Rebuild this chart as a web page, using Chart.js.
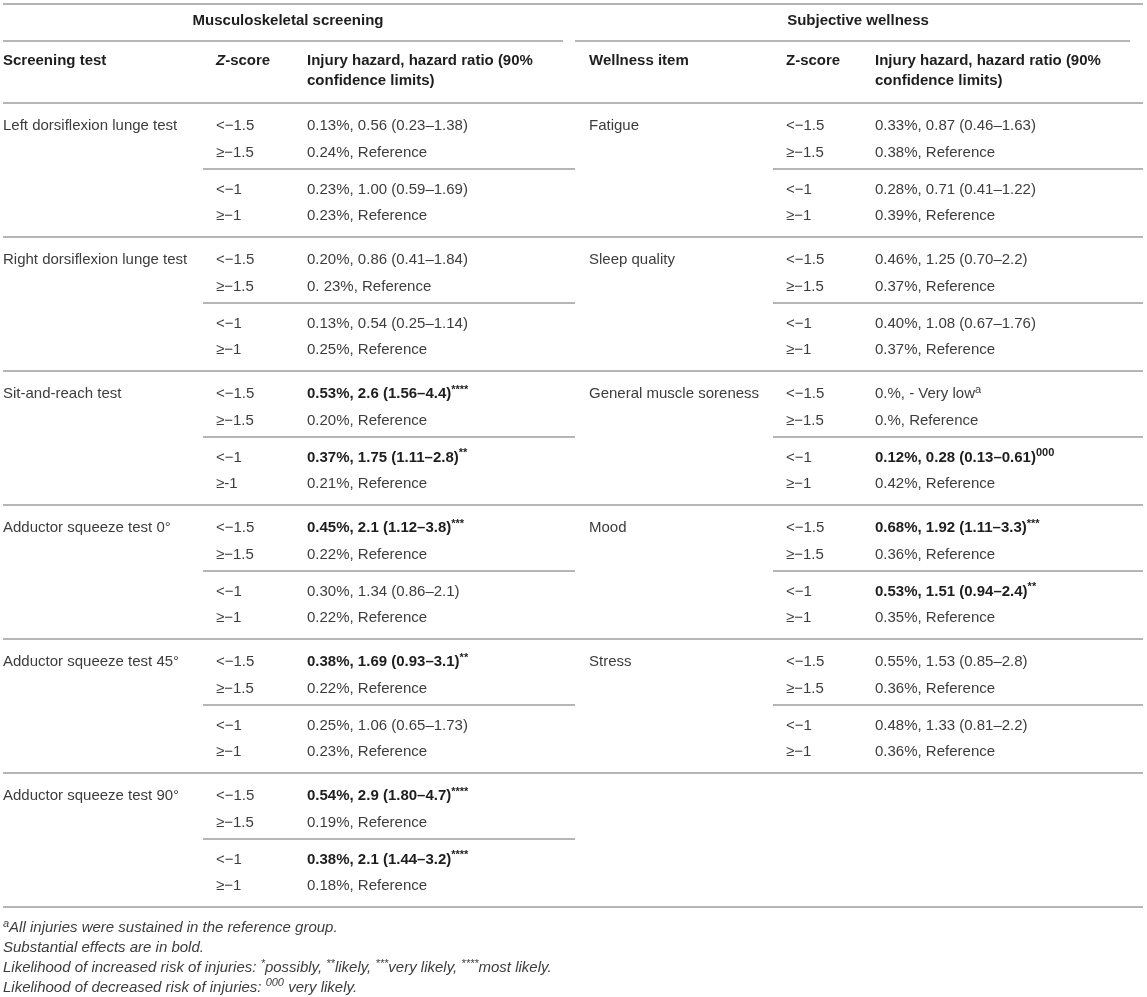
<!DOCTYPE html>
<html>
<head>
<meta charset="utf-8">
<title>Injury hazard by screening test and wellness item</title>
<script src="https://cdn.jsdelivr.net/npm/chart.js@4.4.1/dist/chart.umd.min.js"></script>
<style>
  html, body { margin: 0; padding: 0; background: #fff; }
  canvas { display: block; }
</style>
</head>
<body>
<canvas id="hazardTable" width="1147" height="997"></canvas>
<script>
// --- table contents ---
const groupTitles = ['Musculoskeletal screening', 'Subjective wellness'];
const leftHeaders = ['Screening test', '<i>Z</i>-score', ['Injury hazard, hazard ratio (90%', 'confidence limits)']];
const rightHeaders = ['Wellness item', 'Z-score', ['Injury hazard, hazard ratio (90%', 'confidence limits)']];

const screeningTests = [
    'Left dorsiflexion lunge test',
    'Right dorsiflexion lunge test',
    'Sit-and-reach test',
    'Adductor squeeze test 0°',
    'Adductor squeeze test 45°',
    'Adductor squeeze test 90°'
];
const screeningZ = [
    ['<−1.5', '≥−1.5', '<−1', '≥−1'],
    ['<−1.5', '≥−1.5', '<−1', '≥−1'],
    ['<−1.5', '≥−1.5', '<−1', '≥-1'],
    ['<−1.5', '≥−1.5', '<−1', '≥−1'],
    ['<−1.5', '≥−1.5', '<−1', '≥−1'],
    ['<−1.5', '≥−1.5', '<−1', '≥−1']
];
const screeningHazard = [
    ['0.13%, 0.56 (0.23–1.38)', '0.24%, Reference', '0.23%, 1.00 (0.59–1.69)', '0.23%, Reference'],
    ['0.20%, 0.86 (0.41–1.84)', '0. 23%, Reference', '0.13%, 0.54 (0.25–1.14)', '0.25%, Reference'],
    ['0.53%, 2.6 (1.56–4.4)<sup>****</sup>', '0.20%, Reference', '0.37%, 1.75 (1.11–2.8)<sup>**</sup>', '0.21%, Reference'],
    ['0.45%, 2.1 (1.12–3.8)<sup>***</sup>', '0.22%, Reference', '0.30%, 1.34 (0.86–2.1)', '0.22%, Reference'],
    ['0.38%, 1.69 (0.93–3.1)<sup>**</sup>', '0.22%, Reference', '0.25%, 1.06 (0.65–1.73)', '0.23%, Reference'],
    ['0.54%, 2.9 (1.80–4.7)<sup>****</sup>', '0.19%, Reference', '0.38%, 2.1 (1.44–3.2)<sup>****</sup>', '0.18%, Reference']
];
const screeningBold = [
    [0, 0, 0, 0],
    [0, 0, 0, 0],
    [1, 0, 1, 0],
    [1, 0, 0, 0],
    [1, 0, 0, 0],
    [1, 0, 1, 0]
];

const wellnessItems = ['Fatigue', 'Sleep quality', 'General muscle soreness', 'Mood', 'Stress'];
const wellnessZ = [
    ['<−1.5', '≥−1.5', '<−1', '≥−1'],
    ['<−1.5', '≥−1.5', '<−1', '≥−1'],
    ['<−1.5', '≥−1.5', '<−1', '≥−1'],
    ['<−1.5', '≥−1.5', '<−1', '≥−1'],
    ['<−1.5', '≥−1.5', '<−1', '≥−1']
];
const wellnessHazard = [
    ['0.33%, 0.87 (0.46–1.63)', '0.38%, Reference', '0.28%, 0.71 (0.41–1.22)', '0.39%, Reference'],
    ['0.46%, 1.25 (0.70–2.2)', '0.37%, Reference', '0.40%, 1.08 (0.67–1.76)', '0.37%, Reference'],
    ['0.%, - Very low<sup>a</sup>', '0.%, Reference', '0.12%, 0.28 (0.13–0.61)<sup>000</sup>', '0.42%, Reference'],
    ['0.68%, 1.92 (1.11–3.3)<sup>***</sup>', '0.36%, Reference', '0.53%, 1.51 (0.94–2.4)<sup>**</sup>', '0.35%, Reference'],
    ['0.55%, 1.53 (0.85–2.8)', '0.36%, Reference', '0.48%, 1.33 (0.81–2.2)', '0.36%, Reference']
];
const wellnessBold = [
    [0, 0, 0, 0],
    [0, 0, 0, 0],
    [0, 0, 1, 0],
    [1, 0, 1, 0],
    [0, 0, 0, 0]
];

const footnotes = [
    '<sup>a</sup>All injuries were sustained in the reference group.',
    'Substantial effects are in bold.',
    'Likelihood of increased risk of injuries: <sup>*</sup>possibly, <sup>**</sup>likely, <sup>***</sup>very likely, <sup>****</sup>most likely.',
    'Likelihood of decreased risk of injuries: <sup>000</sup> very likely.'
];

// --- layout (x in canvas units, y in "group" units: one block of four rows = 1) ---
const colX = [3, 216, 307, 589, 786, 875];
const titleX = [288, 858];
const rowY = [0.172, 0.373, 0.649, 0.843];
const innerRuleY = 0.4925;
const headY = [-0.313, -0.164];
const titleY = -0.612;
const topRuleY = -0.739;
const titleRuleY = -0.463;
const noteY = [6.157, 6.306, 6.455, 6.604];
const nGroups = screeningTests.length;

const FONT = '"Liberation Sans", Arial, Helvetica, sans-serif';
const RULE = '#b5b5b5';

// build the text cells
const cells = [];
function cell(x, y, text, opts) {
    cells.push(Object.assign({ x: x, y: y, text: text, bold: false, italic: false, align: 'left', color: '#3d3d3d' }, opts));
}

groupTitles.forEach((t, i) => cell(titleX[i], titleY, t, { bold: true, align: 'center', color: '#1e1e1e' }));
[leftHeaders, rightHeaders].forEach((hdr, side) => {
    hdr.forEach((h, k) => {
        const lines = Array.isArray(h) ? h : [h];
        lines.forEach((ln, j) => cell(colX[side * 3 + k], headY[j], ln, { bold: true, color: '#1e1e1e' }));
    });
});

function addBlock(names, zs, hazards, bolds, side) {
    names.forEach((name, g) => {
        cell(colX[side * 3], g + rowY[0], name);
        for (let r = 0; r < 4; r++) {
            cell(colX[side * 3 + 1], g + rowY[r], zs[g][r]);
            cell(colX[side * 3 + 2], g + rowY[r], hazards[g][r], bolds[g][r] ? { bold: true, color: '#1e1e1e' } : {});
        }
    });
}
addBlock(screeningTests, screeningZ, screeningHazard, screeningBold, 0);
addBlock(wellnessItems, wellnessZ, wellnessHazard, wellnessBold, 1);

footnotes.forEach((f, i) => cell(colX[0], noteY[i], f, { italic: true, size: 15 }));

// horizontal rules as line datasets
function rule(x0, x1, y) {
    return {
        data: [{ x: x0, y: y }, { x: x1, y: y }],
        showLine: true,
        borderColor: RULE,
        borderWidth: 2,
        pointRadius: 0,
        clip: false
    };
}
const rules = [
    rule(3, 1143, topRuleY),
    rule(3, 563, titleRuleY),
    rule(575, 1130, titleRuleY)
];
for (let g = 0; g <= nGroups; g++) rules.push(rule(3, 1143, g));
for (let g = 0; g < nGroups; g++) rules.push(rule(203, 575, g + innerRuleY));
for (let g = 0; g < wellnessItems.length; g++) rules.push(rule(773, 1143, g + innerRuleY));

// draws text with <sup> and <i> pieces
function drawRich(ctx, c, px, py) {
    const size = c.size || 15;
    const weight = c.bold ? 'bold' : 'normal';
    const parts = c.text.split(/(<sup>.*?<\/sup>|<i>.*?<\/i>)/).filter(Boolean).map(p => {
        if (p.startsWith('<sup>')) return { t: p.slice(5, -6), sup: true, it: c.italic };
        if (p.startsWith('<i>')) return { t: p.slice(3, -4), sup: false, it: true };
        return { t: p, sup: false, it: c.italic };
    });
    const fontFor = p => `${p.it ? 'italic ' : ''}${weight} ${p.sup ? Math.round(size * 0.75) : size}px ${FONT}`;
    let total = 0;
    parts.forEach(p => { ctx.font = fontFor(p); p.w = ctx.measureText(p.t).width; total += p.w; });
    let cx = c.align === 'center' ? px - total / 2 : px;
    parts.forEach(p => {
        ctx.font = fontFor(p);
        ctx.fillText(p.t, cx, p.sup ? py - size * 0.3 : py);
        cx += p.w;
    });
}

const cellText = {
    id: 'cellText',
    afterDatasetsDraw(chart) {
        const ctx = chart.ctx;
        const meta = chart.getDatasetMeta(0);
        ctx.save();
        ctx.textAlign = 'left';
        ctx.textBaseline = 'middle';
        meta.data.forEach((pt, i) => {
            const c = chart.data.datasets[0].data[i];
            ctx.fillStyle = c.color;
            drawRich(ctx, c, pt.x, pt.y);
        });
        ctx.restore();
    }
};

new Chart(document.getElementById('hazardTable').getContext('2d'), {
    type: 'scatter',
    data: {
        datasets: [{ data: cells, pointRadius: 0, showLine: false, clip: false }].concat(rules)
    },
    options: {
        responsive: false,
        animation: false,
        devicePixelRatio: 1,
        layout: { padding: 0 },
        events: [],
        scales: {
            x: { type: 'linear', min: 0, max: 1147, display: false },
            y: { type: 'linear', min: -103 / 134, max: 894 / 134, reverse: true, display: false }
        },
        plugins: {
            legend: { display: false },
            tooltip: { enabled: false }
        }
    },
    plugins: [cellText]
});
</script>
</body>
</html>
